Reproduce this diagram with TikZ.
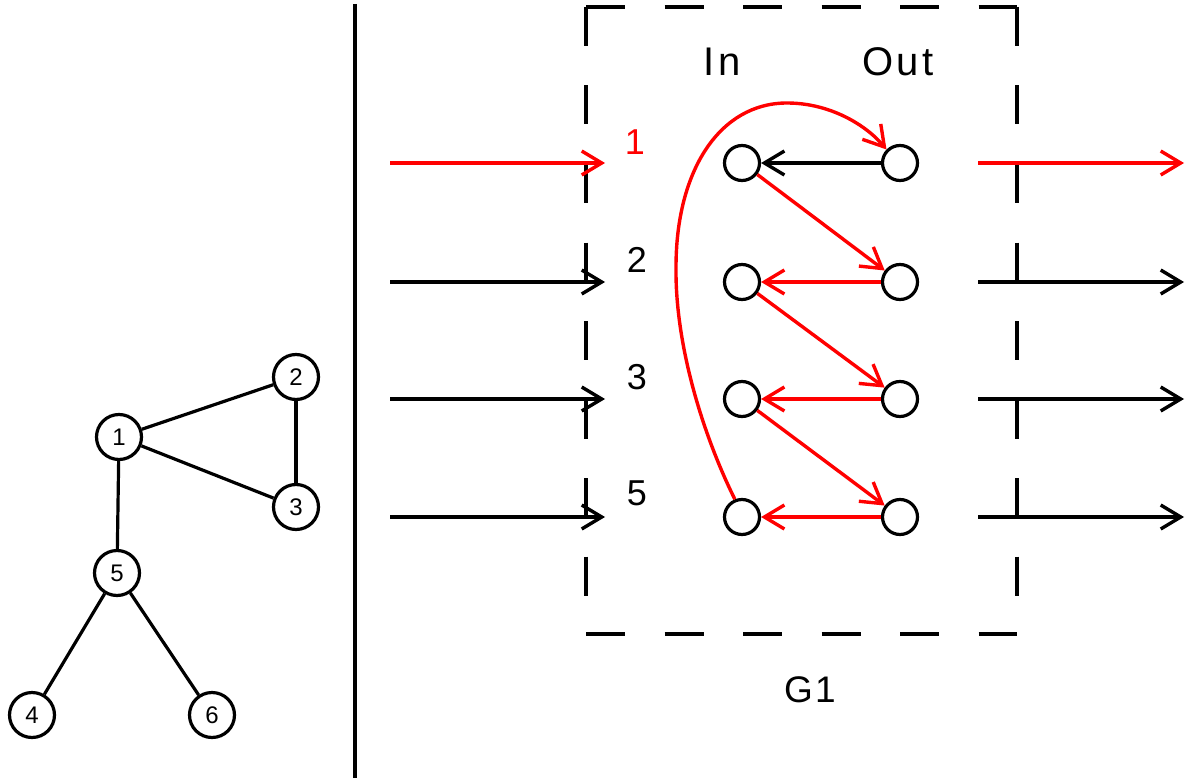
\documentclass[tikz,border=0pt]{standalone}
\usepackage{fontspec}
\setmainfont{Liberation Sans}
\usetikzlibrary{arrows.meta}
\definecolor{myred}{RGB}{255,0,0}
\tikzset{
  gnode/.style={circle,draw,line width=3.2pt,minimum size=45pt,inner sep=0pt,font=\fontsize{24}{24}\selectfont},
  pnode/.style={circle,draw,line width=3.2pt,minimum size=35pt,inner sep=0pt},
  gedge/.style={line width=3.2pt},
  boxside/.style={line width=3.4pt,dash pattern=on 39pt off 39.5pt},
  arr/.style={line width=3.4pt,-{Straight Barb[length=20pt,width=24pt]}},
  lbl/.style={font=\fontsize{36}{36}\selectfont},
  hdr/.style={font=\fontsize{40}{40}\selectfont\addfontfeature{LetterSpace=8}},
}
\begin{document}
\begin{tikzpicture}[x=1pt,y=-1pt]
\useasboundingbox (0,0) rectangle (1185,778);
% left graph
\node[gnode] (g1) at (119,437) {1};
\node[gnode] (g2) at (296,377) {2};
\node[gnode] (g3) at (296,507) {3};
\node[gnode] (g5) at (117,573) {5};
\node[gnode] (g4) at (32,715) {4};
\node[gnode] (g6) at (212,715) {6};
\draw[gedge] (g1) -- (g2);
\draw[gedge] (g1) -- (g3);
\draw[gedge] (g2) -- (g3);
\draw[gedge] (g1) -- (g5);
\draw[gedge] (g5) -- (g4);
\draw[gedge] (g5) -- (g6);
% separator
\coordinate (sepTop) at (355,4);
\coordinate (sepBot) at (355,778);
\draw[line width=4.2pt] (sepTop) -- (sepBot);
% dashed box
\coordinate (bTL) at (586,7);
\coordinate (bTR) at (1017,7);
\coordinate (bBL) at (586,634);
\coordinate (bBR) at (1017,634);
\draw[boxside] (bTL) -- (bTR);
\draw[boxside] (bBL) -- (bBR);
\draw[boxside] (bTL) -- (bBL);
\draw[boxside] (bTR) -- (bBR);
% headers
\node[hdr] (hin) at (722,62) {In};
\node[hdr] (hout) at (898,62) {Out};
\node[font=\fontsize{37}{37}\selectfont\addfontfeature{LetterSpace=6}] (gl) at (810,690) {G1};
% labels
\node[lbl,text=myred] (l1) at (635,142) {1};
\node[lbl] (l2) at (637,260) {2};
\node[lbl] (l3) at (637,377) {3};
\node[lbl] (l5) at (637,493) {5};
% in / out nodes
\node[pnode] (i1) at (742,163) {};
\node[pnode] (i2) at (742,282) {};
\node[pnode] (i3) at (742,399) {};
\node[pnode] (i5) at (742,517) {};
\node[pnode] (o1) at (900,163) {};
\node[pnode] (o2) at (900,282) {};
\node[pnode] (o3) at (900,399) {};
\node[pnode] (o5) at (900,517) {};
% entering arrows
\coordinate (a1) at (390,163); \coordinate (b1) at (605,163);
\coordinate (a2) at (390,282); \coordinate (b2) at (605,282);
\coordinate (a3) at (390,399); \coordinate (b3) at (605,399);
\coordinate (a5) at (390,517); \coordinate (b5) at (605,517);
\draw[arr,myred] (a1) -- (b1);
\draw[arr] (a2) -- (b2);
\draw[arr] (a3) -- (b3);
\draw[arr] (a5) -- (b5);
% leaving arrows
\coordinate (c1) at (978,163); \coordinate (d1) at (1184,163);
\coordinate (c2) at (978,282); \coordinate (d2) at (1184,282);
\coordinate (c3) at (978,399); \coordinate (d3) at (1184,399);
\coordinate (c5) at (978,517); \coordinate (d5) at (1184,517);
\draw[arr,myred] (c1) -- (d1);
\draw[arr] (c2) -- (d2);
\draw[arr] (c3) -- (d3);
\draw[arr] (c5) -- (d5);
% internal arrows
\draw[arr] (o1) -- (i1);
\draw[arr,myred] (o2) -- (i2);
\draw[arr,myred] (o3) -- (i3);
\draw[arr,myred] (o5) -- (i5);
\draw[arr,myred] (i1) -- (o2);
\draw[arr,myred] (i2) -- (o3);
\draw[arr,myred] (i3) -- (o5);
% curved arrow
\coordinate (cl) at (676,267);
\coordinate (ct) at (787,103);
\draw[arr,myred] (i5.112) .. controls (703,435) and (675,345) .. (cl)
  .. controls (676,170) and (720,103) .. (ct)
  .. controls (830,103) and (866,125) .. (o1.135);
\end{tikzpicture}
\end{document}
